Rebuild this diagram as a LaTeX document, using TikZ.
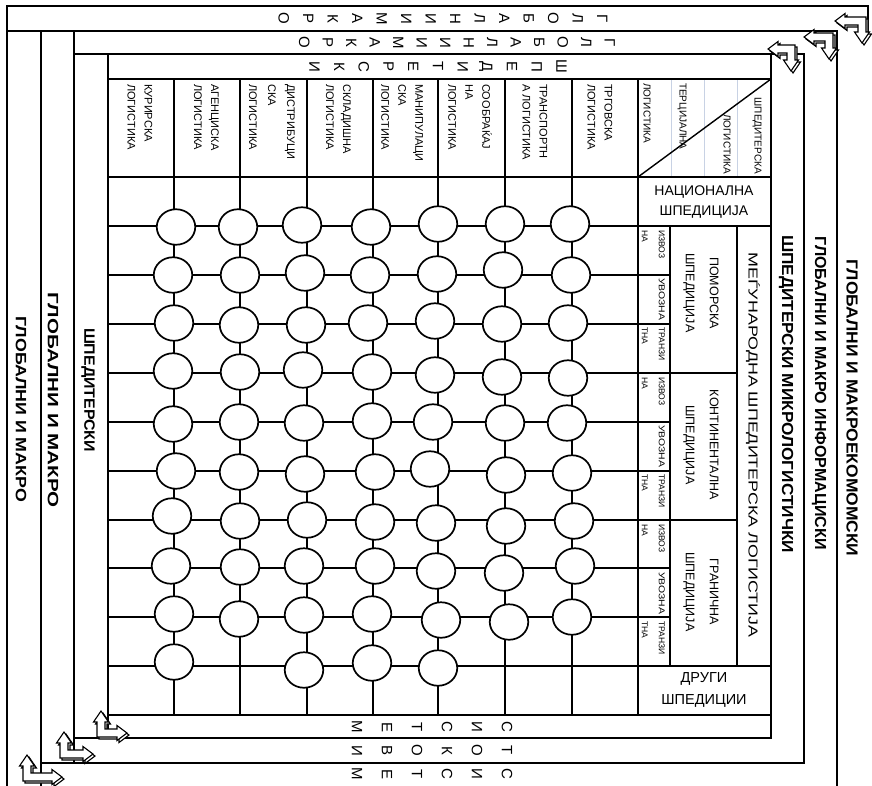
\documentclass[tikz,border=0pt]{standalone}
\usepackage{fontspec}
\setmainfont{Liberation Sans}
\usepackage{graphicx}
\usetikzlibrary{shapes.geometric}
\newcommand{\fw}[2]{\resizebox{#1}{\height}{#2}}
\newcommand{\fsz}[2]{\fontsize{#1}{#2}\selectfont}
\newcommand{\bentarrow}[3]{%
  \begin{scope}[shift={(2,2)}]
    \begin{scope}[shift={#1}, rotate=#2]
      \draw[arrowpoly] (0,0) -- (#3,0) -- (#3,3.5) -- (#3+10,-4) -- (#3,-11.5) -- (#3,-8) -- (8,-8) -- (8,-15) -- (11.5,-15) -- (4,-26) -- (-3.5,-15) -- (0,-15) -- cycle;
    \end{scope}
  \end{scope}
  \begin{scope}[shift={#1}, rotate=#2]
    \draw[arrowpoly] (0,0) -- (#3,0) -- (#3,3.5) -- (#3+10,-4) -- (#3,-11.5) -- (#3,-8) -- (8,-8) -- (8,-15) -- (11.5,-15) -- (4,-26) -- (-3.5,-15) -- (0,-15) -- cycle;
  \end{scope}}
\begin{document}
\begin{tikzpicture}[x=1pt,y=-1pt,
  fr/.style={line width=1.5pt, line cap=rect},
  gl/.style={line width=1.4pt},
  lightln/.style={line width=0.9pt, draw={rgb,255:red,200;green,210;blue,228}},
  arrowpoly/.style={draw=black, fill=white, line width=1.1pt, line join=miter},
  circ/.style={ellipse, draw, line width=1.7pt, fill=white, minimum width=38.5pt, minimum height=35.5pt, inner sep=0pt},
  vt/.style={rotate=-90, inner sep=0pt},
  stack/.style={vt, align=center},
  hdr/.style={vt, anchor=west, align=left, font={\fsz{11}{17}}},
  diagtxt/.style={vt, font={\fsz{10}{11}}},
  small/.style={vt, anchor=north west, align=left, font={\fsz{8.5}{17}}},
  grp/.style={vt, align=center, font={\fsz{12.5}{24}}},
  bigl/.style={vt, font={\bfseries\fsz{16}{18}}},
  horiz/.style={align=center, inner sep=0pt}]
\useasboundingbox (0,0) rectangle (872,785);

% ---- nested frames ----
\draw[fr] (7,6) -- (868,6);
\draw[fr] (7,31) -- (837,31);
\draw[fr] (74,54) -- (804,54);
\draw[fr] (108,79) -- (771,79);
\draw[fr] (108,177) -- (771,177);
\draw[fr] (108,715) -- (771,715);
\draw[fr] (74,738) -- (771,738);
\draw[fr] (41,763) -- (804,763);
\draw[fr] (7,6) -- (7,785);
\draw[fr] (41,31) -- (41,785);
\draw[fr] (74,31) -- (74,763);
\draw[fr] (108,54) -- (108,738);
\draw[fr] (868,6) -- (868,33);
\draw[fr] (837,31) -- (837,785);
\draw[fr] (804,54) -- (804,763);
\draw[fr] (771,54) -- (771,738);

% ---- table grid ----
\foreach \x in {174,240,307,373,438,505,572,638} \draw[gl] (\x,79) -- (\x,715);
\foreach \y in {275,324,422,471,568,617} \draw[gl] (108,\y) -- (670,\y);
\foreach \y in {373,520} \draw[gl] (108,\y) -- (737,\y);
\foreach \y in {226,666} \draw[gl] (108,\y) -- (771,\y);
\draw[gl] (670,226) -- (670,666);
\draw[gl] (737,226) -- (737,666);
\foreach \x in {671,704,737} \draw[lightln] (\x,80) -- (\x,176);

% ---- header labels ----
\node[hdr] (h1) at (140,84) {КУРИРСКА\\ЛОГИСТИКА};
\node[hdr] (h2) at (206.5,84) {АГЕНЦИСКА\\ЛОГИСТИКА};
\node[hdr, font={\fsz{11}{19}}] (h3) at (272,84) {ДИСТРИБУЦИ\\СКА\\ЛОГИСТИКА};
\node[hdr] (h4) at (338.5,84) {СКЛАДИШНА\\ЛОГИСТИКА};
\node[hdr] (h5) at (402,84) {МАНИПУЛАЦИ\\СКА\\ЛОГИСТИКА};
\node[hdr] (h6) at (470,84) {СООБРАЌАЈ\\НА\\ЛОГИСТИКА};
\node[hdr] (h7) at (535,84) {ТРАНСПОРТН\\А ЛОГИСТИКА};
\node[hdr] (h8) at (600,84) {ТРГОВСКА\\ЛОГИСТИКА};

\node[diagtxt, anchor=west] (d1) at (647,83) {ЛОГИСТИКА};
\node[diagtxt, anchor=west] (d2) at (682,83) {ТЕРЦИЈАЛНА};
\node[diagtxt, anchor=east] (d3) at (727,174) {ЛОГИСТИКА};
\node[diagtxt, anchor=east] (d4) at (757,174) {ШПЕДИТЕРСКА};
\draw[line width=1.4pt] (638,177) -- (771,79);

% ---- row labels ----
\node[horiz, font={\fsz{14}{20}}] (nat) at (704,202) {НАЦИОНАЛНА\\ШПЕДИЦИЈА};
\node[horiz, font={\fsz{14.5}{22}}] (oth) at (704,690) {ДРУГИ\\ШПЕДИЦИИ};
\node[vt, font={\fsz{13}{15}}] (intl) at (753,445) {\fw{385pt}{МЕЃУНАРОДНА ШПЕДИТЕРСКА ЛОГИСТИЈА}};
\node[grp] (g1) at (701,293) {ПОМОРСКА\\ШПЕДИЦИЈА};
\node[grp] (g2) at (701,445) {КОНТИНЕНТАЛНА\\ШПЕДИЦИЈА};
\node[grp] (g3) at (701,592) {ГРАНИЧНА\\ШПЕДИЦИЈА};
\foreach \t/\n in {226/a,373/b,520/c} {
  \node[small] (iz\n) at (665,\t+4) {ИЗВОЗ\\НА};
  \node[small] (uv\n) at (665,\t+49+3) {\fw{42pt}{УВОЗНА}};
  \node[small] (tr\n) at (665,\t+98+3) {ТРАНЗИ\\ТНА};
}

% ---- circles ----
\node[circ] (c1-1) at (176,227) {}; \node[circ] (c1-2) at (238,227) {}; \node[circ] (c1-3) at (302,225) {};
\node[circ] (c1-4) at (371,227) {}; \node[circ] (c1-5) at (438,224) {}; \node[circ] (c1-6) at (505,224) {};
\node[circ] (c1-7) at (570,224) {};
\node[circ] (c2-1) at (173,275) {}; \node[circ] (c2-2) at (240,275) {}; \node[circ] (c2-3) at (305,273) {};
\node[circ] (c2-4) at (370,275) {}; \node[circ] (c2-5) at (437,274) {}; \node[circ] (c2-6) at (503,270) {};
\node[circ] (c2-7) at (571,275) {};
\node[circ] (c3-1) at (174,323) {}; \node[circ] (c3-2) at (239,325) {}; \node[circ] (c3-3) at (306,325) {};
\node[circ] (c3-4) at (368,323) {}; \node[circ] (c3-5) at (435,321) {}; \node[circ] (c3-6) at (502,324) {};
\node[circ] (c3-7) at (568,323) {};
\node[circ] (c4-1) at (173,371) {}; \node[circ] (c4-2) at (240,372) {}; \node[circ] (c4-3) at (303,370) {};
\node[circ] (c4-4) at (372,372) {}; \node[circ] (c4-5) at (435,375) {}; \node[circ] (c4-6) at (502,377) {};
\node[circ] (c4-7) at (568,378) {};
\node[circ] (c5-1) at (173,424) {}; \node[circ] (c5-2) at (239,422) {}; \node[circ] (c5-3) at (304,423) {};
\node[circ] (c5-4) at (372,421) {}; \node[circ] (c5-5) at (433,422) {}; \node[circ] (c5-6) at (505,423) {};
\node[circ] (c5-7) at (567,423) {};
\node[circ] (c6-1) at (176,471) {}; \node[circ] (c6-2) at (239,472) {}; \node[circ] (c6-3) at (305,474) {};
\node[circ] (c6-4) at (375,472) {}; \node[circ] (c6-5) at (430,469) {}; \node[circ] (c6-6) at (506,475) {};
\node[circ] (c6-7) at (572,473) {};
\node[circ] (c7-1) at (172,516) {}; \node[circ] (c7-2) at (240,521) {}; \node[circ] (c7-3) at (307,520) {};
\node[circ] (c7-4) at (375,522) {}; \node[circ] (c7-5) at (436,523) {}; \node[circ] (c7-6) at (506,526) {};
\node[circ] (c7-7) at (574,521) {};
\node[circ] (c8-1) at (171,566) {}; \node[circ] (c8-2) at (240,567) {}; \node[circ] (c8-3) at (304,566) {};
\node[circ] (c8-4) at (375,566) {}; \node[circ] (c8-5) at (436,571) {}; \node[circ] (c8-6) at (504,573) {};
\node[circ] (c8-7) at (575,566) {};
\node[circ] (c9-1) at (174,614) {}; \node[circ] (c9-2) at (239,619) {}; \node[circ] (c9-3) at (304,615) {};
\node[circ] (c9-4) at (372,614) {}; \node[circ] (c9-5) at (441,620) {}; \node[circ] (c9-6) at (509,622) {};
\node[circ] (c9-7) at (572,617) {};
\node[circ] (c10-1) at (174,662) {}; \node[circ] (c10-3) at (304,670) {};
\node[circ] (c10-4) at (372,663) {}; \node[circ] (c10-5) at (438,668) {};

% ---- band labels ----
\node[stack, font={\fsz{15}{24.5}}] (top1) at (443,18.5) {Г\\Л\\О\\Б\\А\\Л\\Н\\И\\И\\М\\А\\К\\Р\\О};
\node[stack, font={\fsz{15}{23.5}}] (top2) at (457,42.5) {Г\\Л\\О\\Б\\А\\Л\\Н\\И\\И\\М\\А\\К\\Р\\О};
\node[stack, font={\fsz{15}{24.7}}] (top3) at (438,66.5) {Ш\\П\\Е\\Д\\И\\Т\\Е\\Р\\С\\К\\И};
\node[stack, font={\fsz{15}{30}}] (bot1) at (432,727) {С\\И\\С\\Т\\Е\\М};
\node[stack, font={\fsz{15}{30}}] (bot2) at (432,750.5) {Т\\О\\К\\О\\В\\И};
\node[stack, font={\fsz{15}{30}}] (bot3) at (432,774) {С\\И\\С\\Т\\Е\\М};

\node[bigl] (r1) at (786,394) {\fw{318pt}{ШПЕДИТЕРСКИ МИКРОЛОГИСТИЧКИ}};
\node[bigl] (r2) at (819,393) {\fw{313pt}{ГЛОБАЛНИ И МАКРО ИНФОРМАЦИСКИ}};
\node[bigl] (r3) at (852,408) {\fw{297pt}{ГЛОБАЛНИ И МАКРОЕКОМОМСКИ}};
\node[bigl, font={\bfseries\fsz{15}{17}}] (l1) at (21,409) {\fw{186pt}{ГЛОБАЛНИ И МАКРО}};
\node[bigl, font={\bfseries\fsz{15}{17}}] (l2) at (53,400) {\fw{215pt}{ГЛОБАЛНИ И МАКРО}};
\node[bigl, font={\bfseries\fsz{15}{17}}] (l3) at (88,390) {\fw{124pt}{ШПЕДИТЕРСКИ}};

% ---- corner arrows ----
\bentarrow{(866,17)}{180}{21}
\bentarrow{(833,33)}{180}{19}
\bentarrow{(795,45)}{180}{17}
\bentarrow{(97,737)}{0}{20}
\bentarrow{(60,758)}{0}{23}
\bentarrow{(23,781)}{0}{29}
\end{tikzpicture}
\end{document}
